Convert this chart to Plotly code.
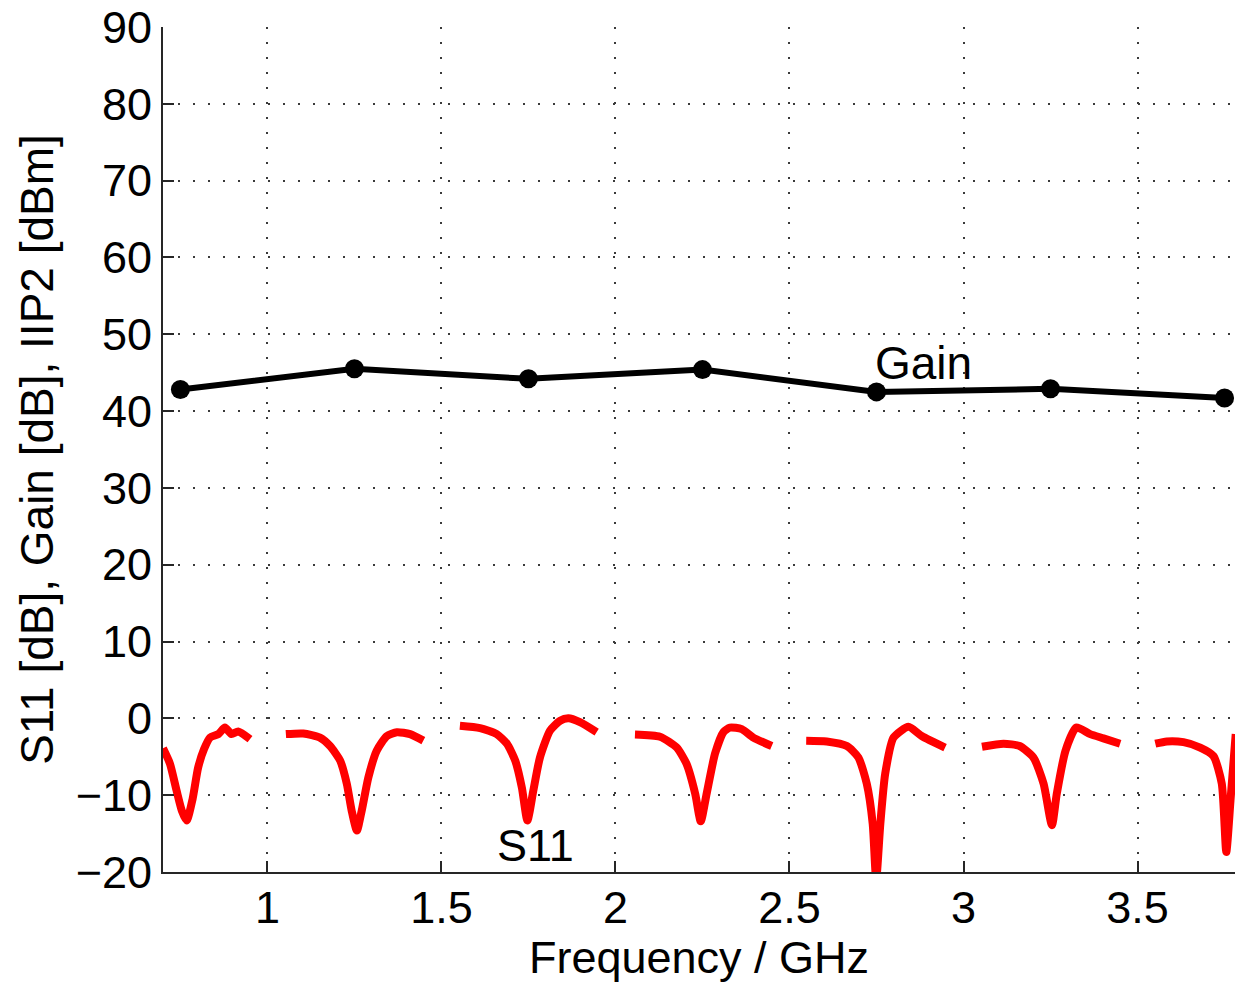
import plotly.graph_objects as go

gain_freq = [0.75, 1.25, 1.75, 2.25, 2.75, 3.25, 3.75]
gain_db = [42.8, 45.5, 44.2, 45.4, 42.5, 42.9, 41.7]

s11_segments = [
    ([0.700, 0.720, 0.739, 0.754, 0.768, 0.785, 0.801, 0.818, 0.835, 0.859, 0.878, 0.897, 0.916, 0.950],
     [-3.9, -5.9, -9.4, -12.0, -13.3, -10.5, -6.4, -4.0, -2.5, -2.05, -1.2, -2.05, -1.7, -2.7]),
    ([1.053, 1.103, 1.151, 1.180, 1.209, 1.228, 1.242, 1.257, 1.271, 1.290, 1.314, 1.343, 1.372, 1.410, 1.448],
     [-2.05, -1.97, -2.5, -3.6, -5.5, -8.5, -12.0, -14.6, -12.0, -7.7, -4.2, -2.3, -1.8, -2.05, -2.9]),
    ([1.553, 1.611, 1.659, 1.688, 1.712, 1.731, 1.747, 1.764, 1.783, 1.812, 1.841, 1.865, 1.898, 1.946],
     [-0.97, -1.27, -2.05, -3.3, -5.5, -9.0, -13.3, -9.4, -5.1, -1.6, -0.3, 0.0, -0.5, -1.8]),
    ([2.056, 2.128, 2.176, 2.204, 2.229, 2.245, 2.262, 2.286, 2.310, 2.329, 2.363, 2.396, 2.449],
     [-2.1, -2.4, -3.8, -5.9, -9.8, -13.4, -9.8, -4.6, -1.8, -1.2, -1.4, -2.5, -3.6]),
    ([2.548, 2.607, 2.665, 2.698, 2.722, 2.739, 2.749, 2.761, 2.775, 2.799, 2.842, 2.880, 2.947],
     [-2.9, -3.0, -3.6, -5.1, -8.5, -13.7, -21.0, -13.7, -7.2, -2.5, -1.1, -2.3, -3.8]),
    ([3.053, 3.115, 3.161, 3.201, 3.230, 3.254, 3.268, 3.293, 3.324, 3.364, 3.402, 3.450],
     [-3.7, -3.3, -3.6, -5.1, -8.5, -13.9, -9.8, -4.2, -1.2, -2.05, -2.6, -3.3]),
    ([3.551, 3.584, 3.632, 3.680, 3.718, 3.742, 3.755, 3.767, 3.782],
     [-3.3, -3.0, -3.1, -3.8, -4.9, -8.5, -17.4, -10.7, -2.05]),
]

x_ticks = [1, 1.5, 2, 2.5, 3, 3.5]
x_tick_text = ["1", "1.5", "2", "2.5", "3", "3.5"]
y_ticks = [-20, -10, 0, 10, 20, 30, 40, 50, 60, 70, 80, 90]

FONT = "Liberation Sans, Arial, Helvetica, sans-serif"

fig = go.Figure()
for xs, ys in s11_segments:
    fig.add_trace(go.Scatter(x=xs, y=ys, mode="lines",
                             line=dict(color="#ff0000", width=8, shape="spline", smoothing=0.6),
                             showlegend=False))
fig.add_trace(go.Scatter(x=gain_freq, y=gain_db, mode="lines+markers",
                         line=dict(color="black", width=6),
                         marker=dict(color="black", size=19),
                         showlegend=False))

fig.add_annotation(x=2.74, y=46.3, text="Gain", showarrow=False,
                   xanchor="left", yanchor="middle", font=dict(size=46, color="black", family=FONT))
fig.add_annotation(x=1.77, y=-16.5, text="S11", showarrow=False,
                   xanchor="center", yanchor="middle", font=dict(size=45, color="black", family=FONT))

axis_common = dict(showline=True, linecolor="#262626", linewidth=2,
                   ticks="inside", ticklen=11, tickwidth=2, tickcolor="#262626",
                   showgrid=True, gridcolor="#3a3a3a", gridwidth=1.5, griddash="2px,13px",
                   zeroline=False, mirror=False, ticklabeloverflow="allow", automargin=False,
                   tickfont=dict(size=45, color="black", family=FONT))

fig.update_xaxes(range=[0.7, 3.78], tickvals=x_ticks, ticktext=x_tick_text,
                 ticklabelstandoff=-5,
                 title=dict(text="Frequency / GHz", font=dict(size=45, color="black", family=FONT), standoff=4),
                 **axis_common)
fig.update_yaxes(range=[-20, 90], tickvals=y_ticks,
                 title=dict(text="S11 [dB], Gain [dB], IIP2 [dBm]", font=dict(size=46, color="black", family=FONT), standoff=8),
                 **axis_common)

fig.update_layout(width=1235, height=983,
                  margin=dict(l=163, r=0, t=27, b=111),
                  paper_bgcolor="white", plot_bgcolor="white")

fig.write_html("out.html")
